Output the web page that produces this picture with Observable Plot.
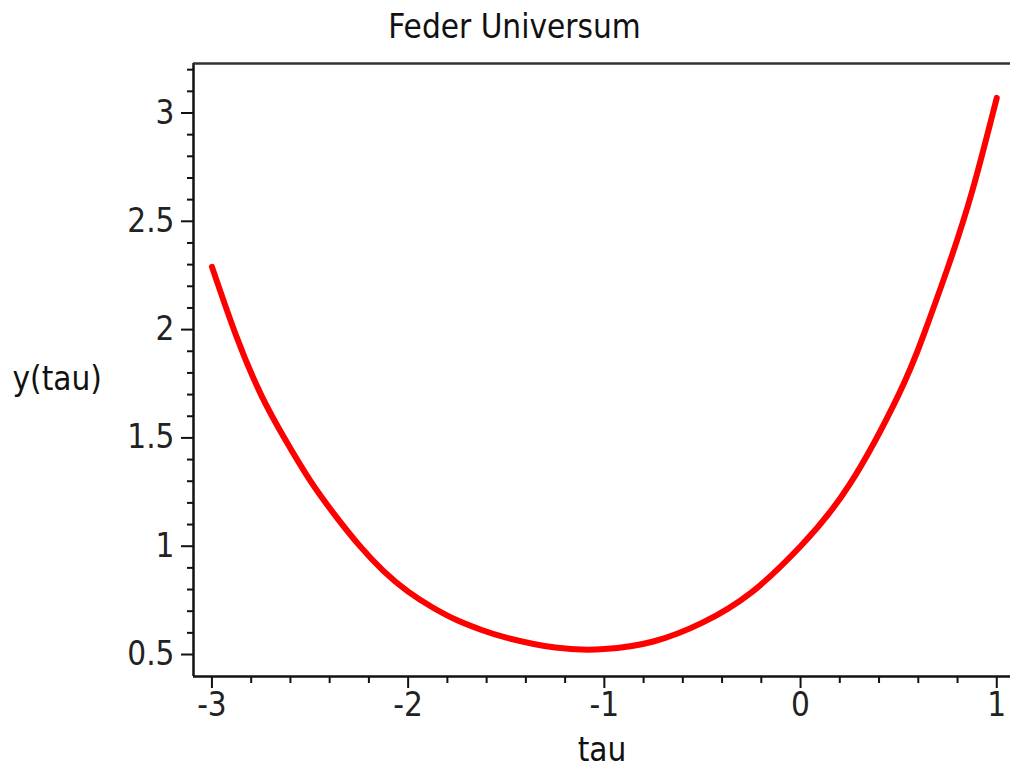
<!DOCTYPE html>
<html>
<head>
<meta charset="utf-8">
<script src="https://cdn.jsdelivr.net/npm/d3@7"></script>
<script src="https://cdn.jsdelivr.net/npm/@observablehq/plot@0.6"></script>
<style>
  html, body { margin: 0; padding: 0; background: #fff; }
  #chart svg { display: block; }
</style>
</head>
<body>
<div id="chart"></div>
<script>
// ---- data ----
const title = "Feder Universum";
const xLabel = "tau";
const yLabel = "y(tau)";
const tau   = [-3, -2.875, -2.75, -2.625, -2.5, -2.375, -2.25, -2.125, -2, -1.875, -1.75, -1.625, -1.5, -1.25, -1, -0.75, -0.5, -0.25, 0, 0.25, 0.5, 0.625, 0.75, 0.875, 1];
const yVals = [2.29, 1.968, 1.70, 1.49, 1.304, 1.146, 1.005, 0.885, 0.79, 0.717, 0.658, 0.613, 0.578, 0.532, 0.525, 0.56, 0.647, 0.787, 1.0, 1.285, 1.70, 1.97, 2.285, 2.64, 3.07];
const xTicks = [-3, -2, -1, 0, 1];
const xTickLabels = ["-3", "-2", "-1", "0", "1"];
const yTicks = [0.5, 1, 1.5, 2, 2.5, 3];
const yTickLabels = ["0.5", "1", "1.5", "2", "2.5", "3"];
const xMinorTicks = d3.range(-15, 6).map(i => i / 5).filter(v => !xTicks.includes(v));
const yMinorTicks = d3.range(5, 33).map(i => i / 10).filter(v => !yTicks.some(t => Math.abs(t - v) < 1e-9));
const xDomain = [-3.094, 1.070];
const yDomain = [0.3985, 3.2285];

const points = tau.map((t, i) => ({tau: t, y: yVals[i]}));

const font = "'Liberation Sans Narrow', 'DejaVu Sans Condensed', 'Liberation Sans', sans-serif";

const chart = Plot.plot({
  width: 1010,
  height: 767,
  marginLeft: 193,
  marginRight: 0,
  marginTop: 63,
  marginBottom: 91,
  style: {fontFamily: font, fontSize: "33px", color: "#222", background: "#fff"},
  x: {domain: xDomain, axis: null},
  y: {domain: yDomain, axis: null},
  marks: [
    // minor ticks
    Plot.axisX(xMinorTicks, {anchor: "bottom", tickSize: 7, tickFormat: () => "", strokeWidth: 2, stroke: "#111", label: null}),
    Plot.axisY(yMinorTicks, {anchor: "left", tickSize: 6, tickFormat: () => "", strokeWidth: 2, stroke: "#111", label: null}),
    // major ticks with labels
    Plot.axisX(xTicks, {anchor: "bottom", tickSize: 12, tickPadding: 4, tickFormat: (d, i) => xTickLabels[i], strokeWidth: 2, stroke: "#111", fontSize: 33, label: null}),
    Plot.axisY(yTicks, {anchor: "left", tickSize: 12, tickPadding: 7, tickFormat: (d, i) => yTickLabels[i], strokeWidth: 2, stroke: "#111", fontSize: 33, label: null}),
    // frame lines
    Plot.ruleX([xDomain[0]], {stroke: "#111", strokeWidth: 2.5}),
    Plot.ruleY([yDomain[0]], {stroke: "#111", strokeWidth: 2.5}),
    Plot.ruleY([yDomain[1]], {stroke: "#333", strokeWidth: 2.5}),
    // curve
    Plot.line(points, {x: "tau", y: "y", stroke: "#ff0000", strokeWidth: 6, curve: "natural"}),
    // titles
    Plot.text([title], {frameAnchor: "top-left", dx: 321, dy: -49, text: d => d, fontSize: 33, fill: "#111", textAnchor: "middle"}),
    Plot.text([xLabel], {frameAnchor: "bottom", dy: 84, text: d => d, fontSize: 33, fill: "#111"}),
    Plot.text([yLabel], {frameAnchor: "left", dx: -181, dy: 9, text: d => d, fontSize: 33, fill: "#111", textAnchor: "start"})
  ]
});

document.getElementById("chart").appendChild(chart);
</script>
</body>
</html>
